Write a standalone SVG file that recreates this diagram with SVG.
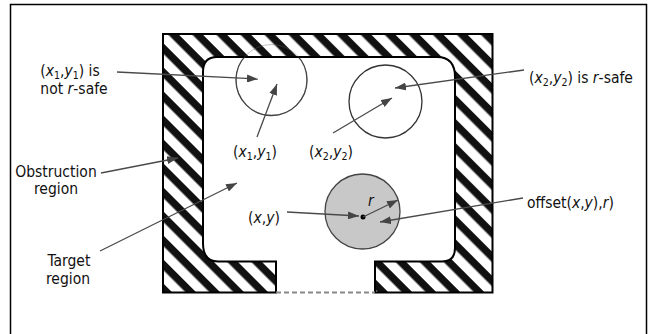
<svg xmlns="http://www.w3.org/2000/svg" width="651" height="334" viewBox="0 0 651 334">
  <style>
    text { font-family: "DejaVu Sans Condensed", "Liberation Sans", sans-serif; font-size: 15.5px; fill: #111; }
    .i { font-style: italic; }
    .s { font-size: 10.5px; }
    .arrow { stroke: #4a4a4a; stroke-width: 1.3; fill: none; marker-end: url(#ah); }
    .circ { stroke: #333; stroke-width: 1.3; fill: none; }
  </style>
  <defs>
    <pattern id="hatch" patternUnits="userSpaceOnUse" width="17" height="17" patternTransform="rotate(45)">
      <rect width="17" height="17" fill="#fff"/>
      <rect y="0" width="17" height="7.5" fill="#111"/>
    </pattern>
    <marker id="ah" markerUnits="userSpaceOnUse" markerWidth="11" markerHeight="8" refX="11" refY="4" orient="auto">
      <path d="M0,0 L11,4 L0,8 Z" fill="#444"/>
    </marker>
  </defs>
  <rect width="651" height="334" fill="#fff"/>
  <path d="M10.5,334 V4.5 H646.5 V334" fill="none" stroke="#000" stroke-width="1.5"/>

  <g id="circle1">
    <circle class="circ" cx="271.5" cy="80" r="35.5"/>
  </g>

  <g id="obstruction">
    <path d="M163,34 H492.5 V292.5 H375 V261.5 H442 Q455,261.5 455,248 V77 Q455,57 437,57 H217 Q203,57 203,72 V243 Q203,261.5 218,261.5 H276 V292.5 H163 Z" fill="url(#hatch)" stroke="#000" stroke-width="2"/>
    <line x1="276" y1="292.5" x2="375" y2="292.5" stroke="#888" stroke-width="2" stroke-dasharray="5,3"/>
    <circle cx="271.5" cy="80" r="35.5" fill="none" stroke="#666" stroke-width="1" opacity="0.4"/>
  </g>

  <g id="circle2">
    <circle class="circ" cx="385.5" cy="101.5" r="36.5"/>
  </g>
  <g id="circle3">
    <circle cx="362.5" cy="211.5" r="37.5" fill="#c8c8c8" stroke="#444" stroke-width="1.3"/>
    <circle cx="363" cy="217" r="2.5" fill="#000"/>
    <text x="368" y="206" class="i" font-size="15">r</text>
  </g>

  <g id="connectors">
    <line class="arrow" x1="117" y1="72" x2="258" y2="79"/>
    <line class="arrow" x1="257" y1="137" x2="277" y2="84"/>
    <line class="arrow" x1="333" y1="133" x2="392" y2="98"/>
    <line class="arrow" x1="524" y1="70" x2="395" y2="88"/>
    <line class="arrow" x1="101" y1="173" x2="178" y2="158"/>
    <line class="arrow" x1="100" y1="251" x2="237" y2="183"/>
    <line class="arrow" x1="287" y1="212" x2="359" y2="216"/>
    <line class="arrow" x1="363" y1="217" x2="398" y2="200"/>
    <line class="arrow" x1="523" y1="198" x2="380" y2="222"/>
  </g>

  <g id="label-notsafe">
    <text x="70" y="76" text-anchor="middle">(<tspan class="i">x</tspan><tspan class="s" dy="2.5">1</tspan><tspan dy="-2.5">,</tspan><tspan class="i">y</tspan><tspan class="s" dy="2.5">1</tspan><tspan dy="-2.5">) is</tspan></text>
    <text x="74" y="93.5" text-anchor="middle">not <tspan class="i">r</tspan>-safe</text>
  </g>
  <g id="label-safe">
    <text x="529" y="83">(<tspan class="i">x</tspan><tspan class="s" dy="2.5">2</tspan><tspan dy="-2.5">,</tspan><tspan class="i">y</tspan><tspan class="s" dy="2.5">2</tspan><tspan dy="-2.5">) is </tspan><tspan class="i">r</tspan>-safe</text>
  </g>
  <g id="label-x1y1">
    <text x="233" y="157">(<tspan class="i">x</tspan><tspan class="s" dy="2.5">1</tspan><tspan dy="-2.5">,</tspan><tspan class="i">y</tspan><tspan class="s" dy="2.5">1</tspan><tspan dy="-2.5">)</tspan></text>
  </g>
  <g id="label-x2y2">
    <text x="309" y="157">(<tspan class="i">x</tspan><tspan class="s" dy="2.5">2</tspan><tspan dy="-2.5">,</tspan><tspan class="i">y</tspan><tspan class="s" dy="2.5">2</tspan><tspan dy="-2.5">)</tspan></text>
  </g>
  <g id="label-obstruction">
    <text x="56" y="177" text-anchor="middle">Obstruction</text>
    <text x="56" y="194" text-anchor="middle">region</text>
  </g>
  <g id="label-target">
    <text x="69" y="266" text-anchor="middle">Target</text>
    <text x="68" y="283.5" text-anchor="middle">region</text>
  </g>
  <g id="label-xy">
    <text x="248" y="223">(<tspan class="i">x</tspan>,<tspan class="i">y</tspan>)</text>
  </g>
  <g id="label-offset">
    <text x="527" y="208">offset(<tspan class="i">x</tspan>,<tspan class="i">y</tspan>),<tspan class="i">r</tspan>)</text>
  </g>
</svg>
